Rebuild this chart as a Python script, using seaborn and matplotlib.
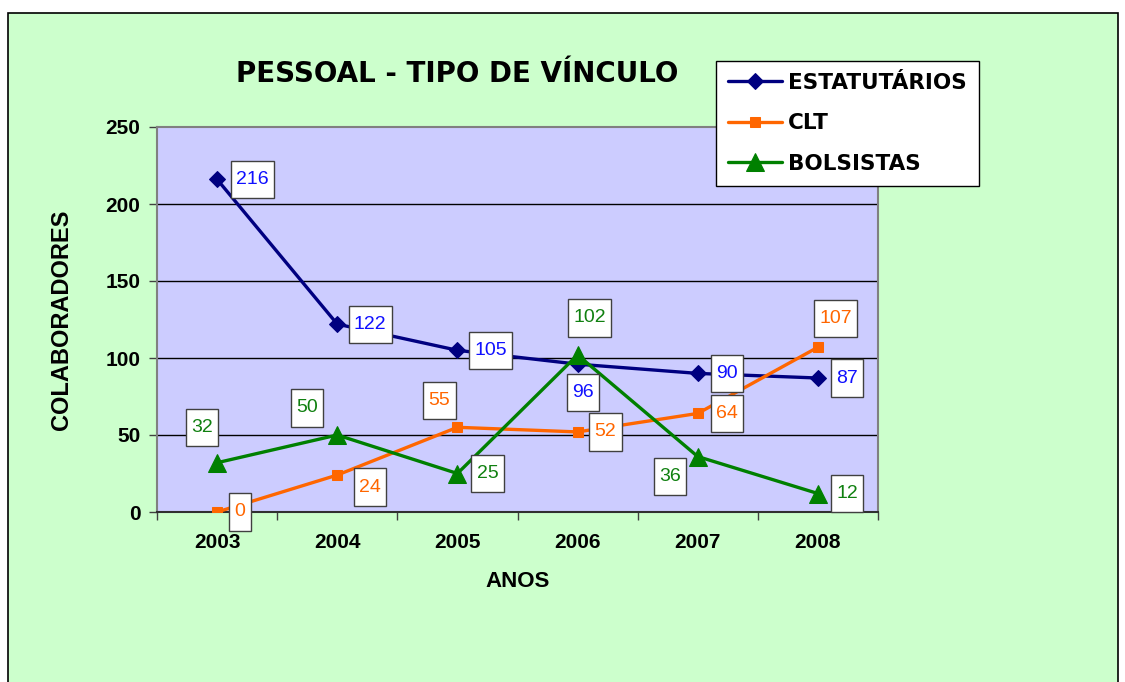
import matplotlib
matplotlib.use("Agg")
import matplotlib.pyplot as plt
from matplotlib.patches import Rectangle
from matplotlib.path import Path
import seaborn as sns
import pandas as pd

years = ["2003", "2004", "2005", "2006", "2007", "2008"]
estatutarios = [216, 122, 105, 96, 90, 87]
clt = [0, 24, 55, 52, 64, 107]
bolsistas = [32, 50, 25, 102, 36, 12]
series_names = ["ESTATUTÁRIOS", "CLT", "BOLSISTAS"]
y_ticks = [0, 50, 100, 150, 200, 250]

# label offsets (pixels) — styling only
off_est = [(35, 0), (33, 0), (33, 0), (5, -28), (29, 0), (29, 0)]
off_clt = [(23, 0), (33, -12), (-18, 27), (28, 0), (29, 0), (18, 29)]
off_bol = [(-15, 35), (-30, 27), (30, 0), (12, 37), (-28, -20), (29, 0)]

sns.set_theme(style="white")
plt.rcParams["font.family"] = ["Liberation Sans", "DejaVu Sans"]
plt.rcParams["text.color"] = "black"
plt.rcParams["axes.labelcolor"] = "black"
plt.rcParams["xtick.color"] = "black"
plt.rcParams["ytick.color"] = "black"

fig = plt.figure(figsize=(11.25, 6.82), dpi=100, facecolor="white")
# chart area background with border
fig.patches.append(Rectangle((8 / 1125, -0.05), (1118 - 8) / 1125, 1.05 - 13 / 682,
                             transform=fig.transFigure, facecolor="#CCFFCC",
                             edgecolor="black", linewidth=1.2, zorder=-10))

ax = fig.add_axes([157 / 1125, 170 / 682, 721 / 1125, 385 / 682])
ax.set_facecolor("#CCCCFF")

idx = list(range(len(years)))
df = pd.DataFrame({"x": idx * 3,
                   "y": estatutarios + clt + bolsistas,
                   "s": [series_names[0]] * 6 + [series_names[1]] * 6 + [series_names[2]] * 6})
colors = {"ESTATUTÁRIOS": "#000080", "CLT": "#FF6600", "BOLSISTAS": "#008000"}
markers = {"ESTATUTÁRIOS": "D", "CLT": "s", "BOLSISTAS": "^"}
msizes = {"ESTATUTÁRIOS": 8, "CLT": 7.5, "BOLSISTAS": 13}

for name in series_names:
    sub = df[df["s"] == name]
    sns.lineplot(data=sub, x="x", y="y", ax=ax, color=colors[name], marker=markers[name],
                 markersize=msizes[name], markeredgecolor=colors[name], linewidth=2.4,
                 label=name, zorder=3)


def tall_box(x0, y0, width, height, mutation_size):
    padx = 0.27 * mutation_size
    pady = 0.52 * mutation_size
    x0, y0 = x0 - padx, y0 - pady
    x1, y1 = x0 + width + 2 * padx, y0 + height + 2 * pady
    return Path([(x0, y0), (x1, y0), (x1, y1), (x0, y1), (x0, y0)], closed=True)


label_colors = {"ESTATUTÁRIOS": "#1010FF", "CLT": "#FF6600", "BOLSISTAS": "#108010"}
for name, vals, offs in [("ESTATUTÁRIOS", estatutarios, off_est),
                         ("CLT", clt, off_clt),
                         ("BOLSISTAS", bolsistas, off_bol)]:
    for i, (v, o) in enumerate(zip(vals, offs)):
        ax.annotate(str(v), (i, v), xytext=o, textcoords="offset pixels",
                    ha="center", va="center", fontsize=14, color=label_colors[name],
                    bbox=dict(boxstyle=tall_box, facecolor="white", edgecolor="#404040",
                              linewidth=1.0), zorder=5, annotation_clip=False)

ax.set_xlim(-0.5, 5.5)
ax.set_ylim(0, 250)
ax.set_yticks(y_ticks)
ax.set_yticklabels([str(t) for t in y_ticks], fontsize=15, fontweight="bold")
ax.set_xticks(idx)
ax.set_xticklabels(years, fontsize=15, fontweight="bold")
ax.set_xticks([i - 0.5 for i in range(len(years) + 1)], minor=True)
ax.tick_params(axis="x", which="major", length=0, pad=15)
ax.tick_params(axis="x", which="minor", length=6, width=1, color="#404040", direction="out", bottom=True)
ax.tick_params(axis="y", which="major", length=6, width=1, color="#404040", direction="out", left=True, pad=6)
for t in y_ticks[1:-1]:
    ax.axhline(t, color="black", linewidth=1.0, zorder=1)

for sp in ["top", "right", "left"]:
    ax.spines[sp].set_color("#808080")
    ax.spines[sp].set_linewidth(1.5)
    ax.spines[sp].set_visible(True)
ax.spines["bottom"].set_color("#303030")
ax.spines["bottom"].set_linewidth(1.5)
ax.spines["bottom"].set_visible(True)

ax.set_xlabel("ANOS", fontsize=16, fontweight="bold", labelpad=14)
ax.set_ylabel("COLABORADORES", fontsize=17, fontweight="bold", labelpad=23)

fig.text(457 / 1125, 1 - 74 / 682, "PESSOAL - TIPO DE VÍNCULO", ha="center", va="center",
         fontsize=20, fontweight="bold", family=["DejaVu Sans"])

leg = ax.legend(loc="upper left", bbox_to_anchor=(716 / 1125, 1 - 61 / 682),
                bbox_transform=fig.transFigure, frameon=True, fancybox=False,
                prop={"family": "DejaVu Sans", "weight": "bold", "size": 15.5},
                handlelength=2.5, handletextpad=0.3, labelspacing=0.95, borderpad=0.55,
                borderaxespad=0, markerscale=1.0)
leg.get_frame().set_facecolor("white")
leg.get_frame().set_edgecolor("black")
leg.get_frame().set_linewidth(1.0)
leg.get_frame().set_alpha(1)
leg.set_zorder(10)

fig.savefig("out.png", dpi=100, facecolor="white")
